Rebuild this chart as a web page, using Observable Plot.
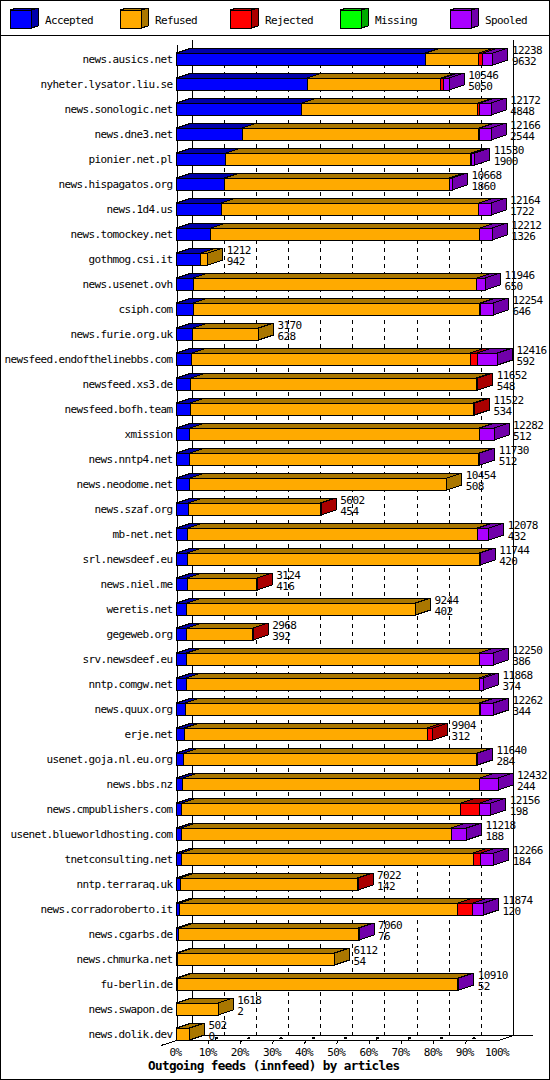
<!DOCTYPE html>
<html>
<head>
<meta charset="utf-8">
<script src="https://cdn.jsdelivr.net/npm/d3@7"></script>
<script src="https://cdn.jsdelivr.net/npm/@observablehq/plot@0.6"></script>
<style>
html,body{margin:0;padding:0;background:#fff}
#page{position:relative;width:550px;height:1080px;outline:1px solid #000;outline-offset:-1px;overflow:hidden;background:#fff}
#legend{height:35px;border-bottom:1px solid #000}
svg{display:block}
svg path,svg line,svg rect{shape-rendering:crispEdges}
</style>
</head>
<body>
<div id="page"><div id="legend"></div><div id="chart"></div></div>
<script>
const hosts = ["news.ausics.net","nyheter.lysator.liu.se","news.sonologic.net","news.dne3.net","pionier.net.pl","news.hispagatos.org","news.1d4.us","news.tomockey.net","gothmog.csi.it","news.usenet.ovh","csiph.com","news.furie.org.uk","newsfeed.endofthelinebbs.com","newsfeed.xs3.de","newsfeed.bofh.team","xmission","news.nntp4.net","news.neodome.net","news.szaf.org","mb-net.net","srl.newsdeef.eu","news.niel.me","weretis.net","gegeweb.org","srv.newsdeef.eu","nntp.comgw.net","news.quux.org","erje.net","usenet.goja.nl.eu.org","news.bbs.nz","news.cmpublishers.com","usenet.blueworldhosting.com","tnetconsulting.net","nntp.terraraq.uk","news.corradoroberto.it","news.cgarbs.de","news.chmurka.net","fu-berlin.de","news.swapon.de","news.dolik.dev"];
const totals = [12238,10546,12172,12166,11530,10668,12164,12212,1212,11946,12254,3170,12416,11652,11522,12282,11730,10454,5602,12078,11744,3124,9244,2968,12250,11868,12262,9904,11640,12432,12156,11218,12266,7022,11874,7060,6112,10910,1618,502];
const accepted = [9632,5050,4848,2544,1900,1860,1722,1326,942,650,646,628,592,548,534,512,512,508,454,432,420,416,402,392,386,374,344,312,284,244,198,188,184,142,120,76,54,52,2,0];
const refused = [2051,5164,6806,9152,9480,8678,9962,10406,270,10961,11088,2542,10774,11054,10948,11195,11173,9946,5108,11201,11294,2688,8842,2556,11324,11339,11373,9387,11326,11478,10798,10435,11282,6850,10761,6954,6058,10828,1616,502];
const rejected = [155,100,78,30,30,0,0,0,0,0,20,0,260,50,40,20,15,0,40,20,0,20,0,20,0,0,30,205,0,0,735,0,297,30,580,0,0,0,0,0];
const missing = hosts.map(() => 0);
const spooled = [400,232,440,440,120,130,480,480,0,335,500,0,790,0,0,555,30,0,0,425,30,0,0,0,540,155,515,0,30,710,425,595,503,0,413,30,0,30,0,0];

const seriesNames = ["Accepted","Refused","Rejected","Missing","Spooled"];
const seriesValues = [accepted,refused,rejected,missing,spooled];
const frontColors = ["#0000ff","#ffaa00","#ff0000","#00ff00","#aa00ff"];
const darkColors = ["#0000aa","#aa7700","#aa0000","#00aa00","#7100aa"];
const percents = [0,10,20,30,40,50,60,70,80,90,100];
const chartTitle = "Outgoing feeds (innfeed) by articles";

const FONT = "'DejaVu Sans Mono', monospace";
const MAX = 12432;
const pxX = MAX / 321.5;        // articles per pixel
const pxY = 1 / 25;             // rows per pixel
const DX = 15 * pxX, DY = 5 * pxY, HH = 6 * pxY;
const rowIdx = d3.range(hosts.length);
const pctV = p => p / 100 * MAX;

const fronts = [], tops = [], sides = [];
rowIdx.forEach(r => {
  let acc = 0, last = -1;
  seriesValues.forEach((vals, s) => {
    const v = vals[r];
    if (v <= 0) return;
    fronts.push({r, s, a: acc, b: acc + v});
    tops.push({id: r + "-" + s, s, x1: acc, x2: acc + v, y: r - HH});
    tops.push({id: r + "-" + s, s, x1: acc + DX, x2: acc + v + DX, y: r - HH - DY});
    acc += v; last = s;
  });
  sides.push({id: r, s: last, x: acc, y1: r - HH, y2: r + HH});
  sides.push({id: r, s: last, x: acc + DX, y1: r - HH - DY, y2: r + HH - DY});
});

const FRONT = 39.24, FLOOR = FRONT - 5 * pxY, YTOP = -0.92;
const gridPct = percents.slice(1, -1);
const barMarks = [];
seriesNames.forEach((_, s) => {
  barMarks.push(Plot.areaX(tops.filter(d => d.s === s), {x1: "x1", x2: "x2", y: "y", z: "id", fill: darkColors[s], stroke: "#000", strokeWidth: 1, curve: "linear"}));
});
seriesNames.forEach((_, s) => {
  barMarks.push(Plot.areaY(sides.filter(d => d.s === s), {x: "x", y1: "y1", y2: "y2", z: "id", fill: darkColors[s], stroke: "#000", strokeWidth: 1, curve: "linear"}));
  barMarks.push(Plot.rect(fronts.filter(d => d.s === s), {x1: "a", x2: "b", y1: d => d.r - HH, y2: d => d.r + HH, fill: frontColors[s], stroke: "#000", strokeWidth: 1}));
});

const chart = Plot.plot({
  width: 550, height: 1044,
  marginLeft: 176.5, marginRight: 52, marginTop: 0, marginBottom: 40,
  x: {domain: [0, MAX]},
  y: {domain: [FRONT, YTOP]},
  style: {fontFamily: FONT, fontSize: "11px", letterSpacing: "-0.62px", color: "#000", background: "#fff"},
  marks: [
    // back wall
    Plot.ruleX(gridPct, {x: p => pctV(p) + DX, y1: -0.44, y2: FLOOR, stroke: "#000", strokeDasharray: "4 4"}),
    Plot.ruleX([0, 100], {x: p => pctV(p) + DX, y1: -0.76, y2: FLOOR, stroke: "#000"}),
    // floor
    Plot.link([0], {x1: pctV(0) + DX, x2: MAX + 34 * pxX, y1: FLOOR, y2: FLOOR, stroke: "#000"}),
    Plot.link([0], {x1: pctV(0), x2: MAX, y1: FRONT, y2: FRONT, stroke: "#000"}),
    Plot.link([0], {x1: MAX, x2: MAX + DX, y1: FRONT, y2: FLOOR, stroke: "#000"}),
    Plot.link([0], {x1: -16 * pxX, x2: 0, y1: FRONT + DY, y2: FRONT, stroke: "#000"}),
    Plot.ruleX([0], {x: 0, y1: -0.56, y2: FRONT, stroke: "#000"}),
    // ticks on the front edge and on the floor
    Plot.link(percents.slice(1, -1), {x1: p => pctV(p) - pxX, x2: p => pctV(p), y1: FRONT + 3.5 * pxY, y2: FRONT, stroke: "#000"}),
    Plot.link(gridPct, {x1: p => pctV(p) + 6 * pxX, x2: p => pctV(p) + 9 * pxX, y1: FRONT - 1.8 * pxY, y2: FRONT - 3 * pxY, stroke: "#000", strokeWidth: 2}),
    ...barMarks,
    // axes
    Plot.axisY({anchor: "left", ticks: rowIdx, tickFormat: i => hosts[i], tickSize: 0, tickPadding: 4.5, dy: -0.5, label: null, fontSize: 11}),
    Plot.axisX({anchor: "bottom", ticks: percents.map(pctV), tickFormat: v => Math.round(v / MAX * 100) + "%", tickSize: 0, tickPadding: 8, dx: -1.5, label: null, fontSize: 11}),
    // value labels
    Plot.text(rowIdx, {x: r => totals[r] + DX, y: r => r - 0.36, text: r => String(totals[r]), textAnchor: "start", dx: 3.5, fontSize: 11, fill: "#000"}),
    Plot.text(rowIdx, {x: r => totals[r] + DX, y: r => r + 0.08, text: r => String(accepted[r]), textAnchor: "start", dx: 3.5, fontSize: 11, fill: "#000"}),
    Plot.text([chartTitle], {frameAnchor: "bottom", dx: -64, dy: 29, text: d => d, fontSize: 12.65, fontWeight: "bold", fill: "#000"})
  ]
});
document.getElementById("chart").appendChild(chart);

const legendIdx = d3.range(seriesNames.length);
const SW = 21 / 110, SDX = 7 / 110, SDY = 2;
const lTop = [], lSide = [];
legendIdx.forEach(i => {
  lTop.push({id: i, x1: i, x2: i + SW, y: 10});
  lTop.push({id: i, x1: i + SDX, x2: i + SW + SDX, y: 10 - SDY});
  lSide.push({id: i, x: i + SW, y1: 10, y2: 28});
  lSide.push({id: i, x: i + SW + SDX, y1: 10 - SDY, y2: 28 - SDY});
});
const legendMarks = [];
legendIdx.forEach(i => {
  legendMarks.push(Plot.areaX(lTop.filter(d => d.id === i), {x1: "x1", x2: "x2", y: "y", z: "id", fill: darkColors[i], stroke: "#000", curve: "linear"}));
  legendMarks.push(Plot.areaY(lSide.filter(d => d.id === i), {x: "x", y1: "y1", y2: "y2", z: "id", fill: darkColors[i], stroke: "#000", curve: "linear"}));
  legendMarks.push(Plot.rect([i], {x1: i, x2: i + SW, y1: 10, y2: 28, fill: frontColors[i], stroke: "#000"}));
});
const legend = Plot.plot({
  width: 550, height: 35, margin: 0,
  x: {domain: [0, 5], range: [10, 560], axis: null},
  y: {domain: [0, 35], range: [0, 35], axis: null},
  style: {fontFamily: FONT, fontSize: "11px", letterSpacing: "-0.62px", color: "#000", background: "#fff"},
  marks: [
    ...legendMarks,
    Plot.text(legendIdx, {x: i => i + 34.5 / 110, y: 20, text: i => seriesNames[i], textAnchor: "start", fontSize: 11, fill: "#000"})
  ]
});
document.getElementById("legend").appendChild(legend);
</script>
</body>
</html>
